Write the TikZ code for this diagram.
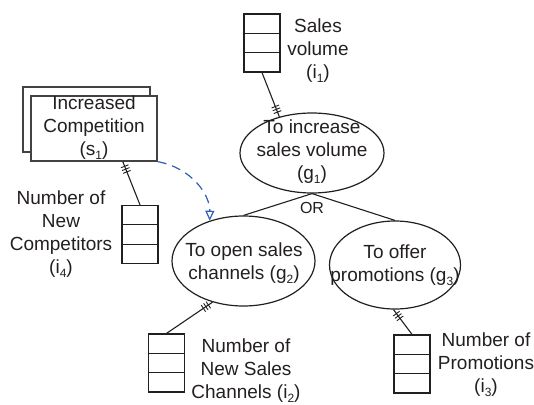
\documentclass[tikz,border=0pt]{standalone}
\usepackage{fontspec}
\setmainfont{Liberation Sans}
\usetikzlibrary{calc,arrows.meta,decorations.markings,shapes.geometric}
\definecolor{ink}{RGB}{35,31,32}
\definecolor{dashblue}{RGB}{45,95,180}
\newcommand\mysub[1]{\raisebox{-0.4ex}{\fontsize{12}{12}\selectfont #1}}
\tikzset{
 every node/.style={text=ink, font=\fontsize{19}{23}\selectfont},
 lbl/.style={align=center, inner sep=0pt},
 goal/.style={ellipse, draw=ink, line width=1.2pt, inner sep=0pt},
 tbl/.style={rectangle, draw=ink, line width=1.2pt, minimum width=36pt, minimum height=58pt, inner sep=0pt},
 sbox/.style={rectangle, draw=ink!85, fill=white, line width=1.3pt, minimum width=126pt, minimum height=65pt, inner sep=0pt},
 link/.style={draw=ink, line width=1.1pt},
 ticked/.style={link, postaction=decorate, decoration={markings,
   mark=at position 5pt with {\draw[ink, line width=0.9pt] (0,-4pt)--(0,4pt);},
   mark=at position 8pt with {\draw[ink, line width=0.9pt] (0,-4pt)--(0,4pt);},
   mark=at position 11pt with {\draw[ink, line width=0.9pt] (0,-4pt)--(0,4pt);}}},
 tline/.style={draw=ink, line width=1.2pt},
}
\begin{document}
\begin{tikzpicture}[x=1pt,y=-1pt]
\useasboundingbox (0,0) rectangle (534,404);
% tables
\node[tbl] (i1) at (262,43) {};
\node[tbl] (i4) at (140,234.5) {};
\node[tbl] (i2) at (166.5,363) {};
\node[tbl] (i3) at (412,364) {};
\foreach \t in {i1,i4,i2,i3}{
  \draw[tline] ($(\t.north west)!1/3!(\t.south west)$) -- ($(\t.north east)!1/3!(\t.south east)$);
  \draw[tline] ($(\t.north west)!2/3!(\t.south west)$) -- ($(\t.north east)!2/3!(\t.south east)$);
}
% table labels
\node[lbl] (i1l) at (318,51) {Sales\\volume\\(i\mysub{1})};
\node[lbl] (i4l) at (61,234) {Number of\\New\\Competitors\\(i\mysub{4})};
\node[lbl] (i2l) at (246,370.5) {Number of\\New Sales\\Channels (i\mysub{2})};
\node[lbl] (i3l) at (486,365) {Number of\\Promotions\\(i\mysub{3})};
% situation
\node[sbox, minimum width=127pt] (s1b) at (86.5,119.5) {};
\node[sbox] (s1) at (94,128.5) {};
\node[lbl] (s1t) at (94,128) {Increased\\Competition\\(s\mysub{1})};
% goals
\node[goal, minimum width=144pt, minimum height=80pt] (g1) at (312,153) {};
\node[lbl] (g1t) at (312,152) {To increase\\sales volume\\(g\mysub{1})};
\node[goal, minimum width=143pt, minimum height=90pt] (g2) at (243.5,261) {};
\node[lbl] (g2t) at (244,263) {To open sales\\channels (g\mysub{2})};
\node[goal, minimum width=131pt, minimum height=88pt] (g3) at (395,265) {};
\node[lbl] (g3t) at (395,265) {To offer\\promotions (g\mysub{3})};
% OR decomposition
\draw[link] (g1.south) -- (g2.north);
\draw[link] (g1.south) -- (g3.north);
\node[lbl, font=\fontsize{16}{16}\selectfont] (or) at (312,208) {OR};
% indicator links
\draw[ticked] (g1.132) -- (i1.south);
\draw[ticked] (s1.-49) -- (i4.north);
\draw[ticked] (g2.233) -- (i2.north);
\draw[ticked] (g3.268) -- (i3.north);
% influence arrow
\draw[dashblue, line width=1.2pt, dash pattern=on 9pt off 6pt, -{Triangle[open, length=10pt, width=9pt]}]
  (s1.south east) .. controls (192,168) and (210,195) .. (g2.130);
\end{tikzpicture}
\end{document}
